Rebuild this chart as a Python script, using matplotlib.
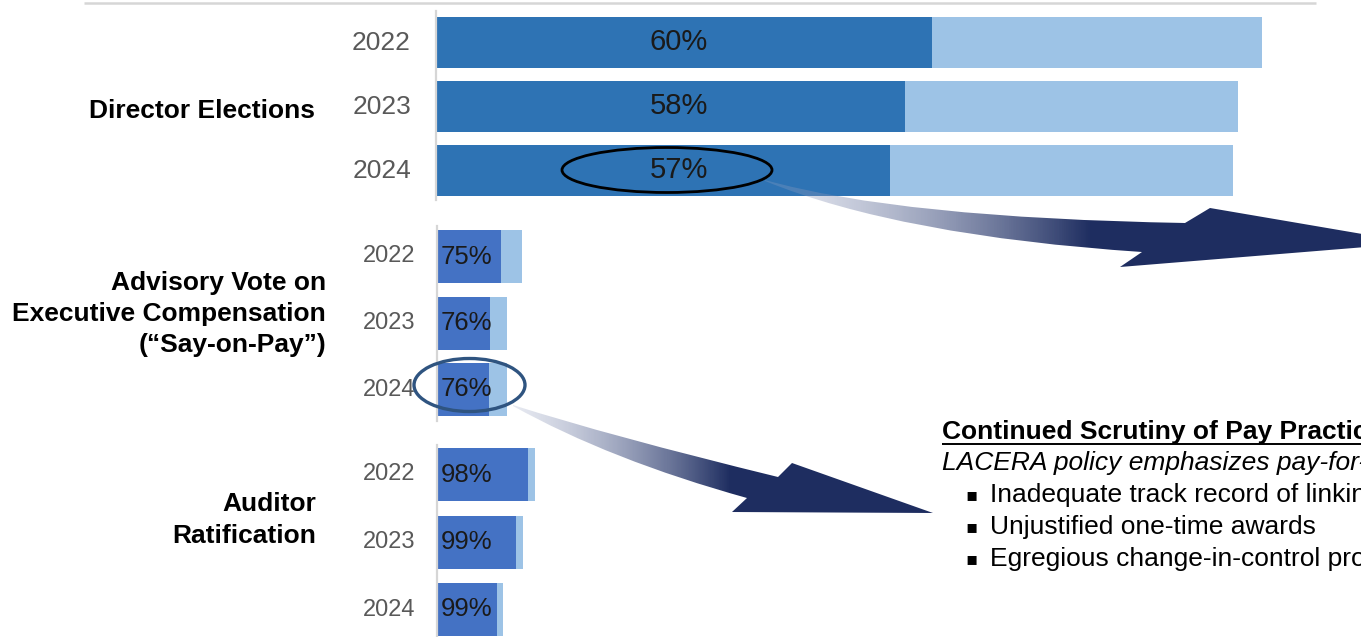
import numpy as np
import matplotlib
matplotlib.use("Agg")
import matplotlib.pyplot as plt
from matplotlib.path import Path
from matplotlib.patches import PathPatch, Ellipse
from matplotlib.colors import LinearSegmentedColormap

# ---------------- data ----------------
years = ["2022", "2023", "2024"]
groups = ["Director Elections",
          "Advisory Vote on\nExecutive Compensation\n(\u201cSay-on-Pay\u201d)",
          "Auditor\nRatification"]
# bar lengths (arbitrary units): total proposals and supported portion
dir_total = [825, 801, 796]
dir_support = [495, 468, 453]
sop_total = [85, 70, 70]
sop_support = [64, 53, 52]
aud_total = [98, 86, 66]
aud_support = [91, 79, 60]
dir_pct = ["60%", "58%", "57%"]
sop_pct = ["75%", "76%", "76%"]
aud_pct = ["98%", "99%", "99%"]

totals = [dir_total, sop_total, aud_total]
supports = [dir_support, sop_support, aud_support]
pcts = [dir_pct, sop_pct, aud_pct]

title = "Continued Scrutiny of Pay Practices"
subtitle = "LACERA policy emphasizes pay-for-performance"
bullets = ["Inadequate track record of linking pay and performance",
           "Unjustified one-time awards",
           "Egregious change-in-control provisions"]

# ---------------- layout ----------------
W, H = 1361, 637
FONT = "Liberation Sans"
fig = plt.figure(figsize=(W / 100, H / 100), dpi=100)
X0 = 437
ax = fig.add_axes([X0 / W, 0, (W - X0) / W, 1])
ax.set_xlim(0, W - X0)
ax.set_ylim(H, 0)
ax.axis("off")

tops = [17, 230, 448]
pitch = [64, 66.5, 67.5]
heights = [51, 53, 53]
dark_cols = ["#2E73B4", "#4472C4", "#4472C4"]
light_col = "#9DC3E6"

ov = fig.add_axes([0, 0, 1, 1], zorder=5)
ov.set_xlim(0, W)
ov.set_ylim(H, 0)
ov.axis("off")
ov.patch.set_alpha(0)

for g in range(3):
    yc = [tops[g] + i * pitch[g] + heights[g] / 2 for i in range(3)]
    ax.barh(yc, totals[g], height=heights[g], left=0, color=light_col)
    ax.barh(yc, supports[g], height=heights[g], left=0, color=dark_cols[g])
    for i in range(3):
        if g == 0:
            ax.text(242, yc[i], pcts[g][i], ha="center", va="center",
                    fontsize=21, color="#1A1A1A", family=FONT)
            ov.text(411, yc[i], years[i], ha="right", va="center",
                    fontsize=19, color="#595959", family=FONT)
        else:
            ax.text(4, yc[i], pcts[g][i], ha="left", va="center",
                    fontsize=18.5, color="#1A1A1A", family=FONT)
            ov.text(415, yc[i], years[i], ha="right", va="center",
                    fontsize=17, color="#595959", family=FONT)

# group labels
ov.text(315, 111, groups[0], ha="right", va="center", fontsize=19,
        fontweight="bold", family=FONT, color="black")
ov.text(326, 314, groups[1], ha="right", va="center", fontsize=19,
        fontweight="bold", family=FONT, color="black", linespacing=1.38)
ov.text(316, 520, groups[2], ha="right", va="center", fontsize=19,
        fontweight="bold", family=FONT, color="black", linespacing=1.42)

# axis lines
gray = "#D6D6D6"
ov.plot([84, 1316], [3, 3], color=gray, lw=1.8, solid_capstyle="butt")
ov.plot([436, 436], [11, 200], color=gray, lw=1.6)
ov.plot([437, 437], [226, 421], color=gray, lw=1.6)
ov.plot([437, 437], [445, 637], color=gray, lw=1.6)


def grad_arrow(axis, verts, codes, g0, g1, c0, c1):
    path = Path(verts, codes)
    patch = PathPatch(path, facecolor="none", edgecolor="none")
    axis.add_patch(patch)
    xs = [v[0] for v in verts]
    ys = [v[1] for v in verts]
    xmin, xmax = min(xs) - 2, max(xs) + 2
    xx = np.linspace(xmin, xmax, 512)
    t = np.clip((xx - g0) / (g1 - g0), 0, 1).reshape(1, -1)
    cmap = LinearSegmentedColormap.from_list("g", [c0, c1])
    im = axis.imshow(t, cmap=cmap, vmin=0, vmax=1,
                     extent=[xmin, xmax, max(ys) + 2, min(ys) - 2],
                     aspect="auto", interpolation="bilinear", zorder=6)
    im.set_clip_path(patch)


M, C, L, CL = Path.MOVETO, Path.CURVE3, Path.LINETO, Path.CLOSEPOLY
navy = (0.12, 0.18, 0.38, 1.0)
pale = (0.62, 0.66, 0.78, 0.25)

# arrow 1 (director elections)
v1 = [(765, 180), (900, 218), (1185, 223), (1210, 208), (1415, 243),
      (1120, 267), (1142, 252), (900, 236), (765, 181), (765, 180)]
c1 = [M, C, C, L, L, L, L, C, C, CL]
grad_arrow(ov, v1, c1, 770, 1090, pale, navy)

# arrow 2 (say-on-pay)
v2 = [(513, 405), (610, 436), (778, 477), (792, 463), (933, 513),
      (732, 512), (747, 498), (610, 460), (513, 406), (513, 405)]
c2 = [M, C, C, L, L, L, L, C, C, CL]
grad_arrow(ov, v2, c2, 515, 730, pale, navy)

ov.set_xlim(0, W)
ov.set_ylim(H, 0)

# ellipses
ov.add_patch(Ellipse((667, 170), 210, 45, fill=False, ec="black", lw=2, zorder=8))
ov.add_patch(Ellipse((469.5, 385), 111, 53, fill=False, ec="#2F5480", lw=2.4, zorder=8))

# text block
ov.text(942, 432, title, ha="left", va="center", fontsize=19,
        fontweight="bold", family=FONT, color="black")
ov.plot([942, 1361], [443.5, 443.5], color="black", lw=1.4, solid_capstyle="butt")
ov.text(942, 463, subtitle, ha="left", va="center", fontsize=19,
        fontstyle="italic", family=FONT, color="black")
for i, b in enumerate(bullets):
    y = 495 + i * 32
    ov.text(972, y, "\u25aa", ha="center", va="center", fontsize=13,
            family="DejaVu Sans", color="black")
    ov.text(990, y, b, ha="left", va="center", fontsize=19,
            family=FONT, color="black")

fig.savefig("out.png", dpi=100)
